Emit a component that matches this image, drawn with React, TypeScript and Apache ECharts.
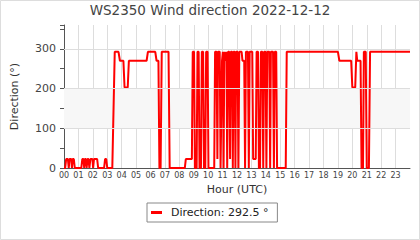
import React, { useEffect, useRef } from "react";
import * as echarts from "echarts";

const titleText = "WS2350 Wind direction 2022-12-12";
const seriesName = "Direction";
const xAxisName = "Hour (UTC)";
const yAxisName = "Direction (°)";
const bandRange = [100, 200];
const yGridValues = [100, 200, 300];

const hours = [
  0, 0.08, 0.15, 0.27, 0.33, 0.38, 0.5, 0.55, 0.6, 0.68, 0.75,
  1.2, 1.27, 1.35, 1.4, 1.45, 1.52, 1.57, 1.63, 1.7, 1.76, 1.83, 1.97, 2.02, 2.08, 2.3, 2.37,
  2.78, 2.85, 2.93, 3.0, 3.35,
  3.52, 3.78, 3.88, 4.12, 4.2, 4.42, 4.5, 5.73, 5.82, 6.33, 6.42, 6.55, 6.62, 6.7, 6.78, 7.25, 7.33,
  8.38, 8.45, 8.87,
  8.93, 9.02, 9.08, 9.2, 9.26, 9.34, 9.4, 9.5, 9.56, 9.65, 9.71, 9.8, 9.86, 9.96, 10.02, 10.42,
  10.48, 10.58, 10.64, 10.68, 10.8, 10.86, 10.9, 10.96, 11.02, 11.07, 11.12, 11.2, 11.27, 11.32,
  11.38, 11.46, 11.52, 11.57, 11.66, 11.71, 11.76, 11.84, 11.89, 11.94, 12.04, 12.1, 12.16, 12.32,
  12.38, 12.5, 12.56, 12.62, 12.76, 12.82, 12.88, 13.06, 13.12, 13.3, 13.36, 13.46, 13.52, 13.6,
  13.66, 13.76, 13.82, 13.88, 13.98, 14.04, 14.1, 14.24, 14.3, 14.35, 14.5, 14.56, 14.62, 14.72,
  14.78, 15.38, 15.45,
  19.0, 19.1, 19.92, 20.0, 20.2, 20.28, 20.34, 20.57, 20.64, 20.74, 20.8, 20.93, 21.0, 21.15, 21.23, 24,
];

const directions = [
  0, 0, 22.5, 22.5, 0, 22.5, 22.5, 0, 22.5, 22.5, 0,
  0, 22.5, 22.5, 0, 22.5, 22.5, 0, 22.5, 22.5, 0, 22.5, 22.5, 0, 22.5, 22.5, 0,
  0, 22.5, 22.5, 0, 0,
  292.5, 292.5, 270, 270, 202.5, 202.5, 270, 270, 292.5, 292.5, 270, 270, 0, 0, 292.5, 292.5, 0,
  0, 22.5, 22.5,
  292.5, 292.5, 0, 0, 292.5, 292.5, 0, 0, 292.5, 292.5, 0, 0, 292.5, 292.5, 0, 0,
  292.5, 292.5, 22.5, 292.5, 292.5, 0, 0, 270, 292.5, 0, 292.5, 270, 292.5, 0,
  292.5, 292.5, 22.5, 292.5, 292.5, 0, 292.5, 292.5, 0, 292.5, 292.5, 0, 292.5, 292.5,
  270, 270, 0, 292.5, 292.5, 0, 292.5, 292.5, 22.5, 22.5, 292.5, 292.5, 0, 0,
  292.5, 292.5, 0, 292.5, 292.5, 0, 292.5, 292.5, 0, 292.5, 292.5, 0, 292.5, 292.5,
  0, 0, 292.5,
  292.5, 270, 270, 202.5, 202.5, 292.5, 270, 270, 0, 0, 292.5, 292.5, 0, 0, 292.5, 292.5,
];

const FONT = "DejaVu Sans";

export default function App() {
  const ref = useRef<HTMLDivElement>(null);

  useEffect(() => {
    const chart = echarts.init(ref.current!, null, { renderer: "svg" });
    const data = hours.map((h, i) => [h, directions[i]]);
    const last = directions[directions.length - 1];

    chart.setOption({
      animation: false,
      textStyle: { fontFamily: FONT },
      title: {
        text: titleText,
        left: "center",
        top: 3,
        padding: 0,
        textStyle: { fontSize: 13.5, fontWeight: "normal", color: "#444", fontFamily: FONT },
      },
      graphic: [
        {
          type: "rect",
          silent: true,
          shape: { x: 0.5, y: 0.5, width: 419, height: 239 },
          style: { fill: "none", stroke: "#dddddd", lineWidth: 1 },
        },
      ],
      grid: { left: 64, right: 10, top: 25, bottom: 72 },
      xAxis: {
        type: "value",
        min: 0,
        max: 24,
        interval: 1,
        name: xAxisName,
        nameLocation: "middle",
        nameGap: 14,
        nameTextStyle: { fontSize: 11, color: "#333", fontFamily: FONT },
        axisLine: { show: true, lineStyle: { color: "#555", width: 1 } },
        axisTick: { show: false },
        axisLabel: {
          fontSize: 8,
          color: "#444",
          margin: 3,
          fontFamily: FONT,
          showMaxLabel: false,
          formatter: (v: number) => (v >= 24 ? "" : String(v).padStart(2, "0")),
        },
        splitLine: {
          show: true,
          showMinLine: false,
          showMaxLine: false,
          lineStyle: { color: "#dddddd", width: 1 },
        },
      },
      yAxis: {
        type: "value",
        min: 0,
        max: 360,
        interval: 50,
        name: yAxisName,
        nameLocation: "middle",
        nameGap: 44,
        nameTextStyle: { fontSize: 11, color: "#333", fontFamily: FONT },
        axisLine: { show: true, lineStyle: { color: "#555", width: 1 } },
        axisTick: { show: true, length: 4, lineStyle: { color: "#555" } },
        axisLabel: {
          fontSize: 11,
          color: "#444",
          margin: 8,
          fontFamily: FONT,
          formatter: (v: number) => (v % 100 === 0 && v <= 300 ? String(v) : ""),
        },
        splitLine: { show: false },
      },
      legend: {
        data: [seriesName],
        left: 147,
        top: 203,
        padding: [3, 9, 3, 4],
        borderColor: "#888",
        borderWidth: 1,
        borderRadius: 0,
        icon: "rect",
        itemWidth: 11,
        itemHeight: 3,
        textStyle: { fontSize: 11, color: "#222", fontFamily: FONT, lineHeight: 13, padding: [0, 0, 0, 4] },
        formatter: (name: string) => `${name}: ${last} °`,
      },
      series: [
        {
          name: "_grid",
          type: "line",
          data: [],
          z: 1,
          silent: true,
          markArea: {
            silent: true,
            itemStyle: { color: "#f7f7f7" },
            data: [[{ yAxis: bandRange[0] }, { yAxis: bandRange[1] }]],
          },
          markLine: {
            silent: true,
            symbol: "none",
            label: { show: false },
            lineStyle: { color: "#dddddd", width: 1, type: "solid" },
            data: yGridValues.map((v) => ({ yAxis: v })),
          },
        },
        {
          name: seriesName,
          type: "line",
          data,
          z: 3,
          showSymbol: false,
          symbol: "none",
          lineStyle: { color: "#ff0000", width: 2 },
          itemStyle: { color: "#ff0000" },
        },
      ],
    });

    return () => chart.dispose();
  }, []);

  return (
    <div
      ref={ref}
      style={{ position: "absolute", left: 0, top: 0, width: 420, height: 240 }}
    />
  );
}
